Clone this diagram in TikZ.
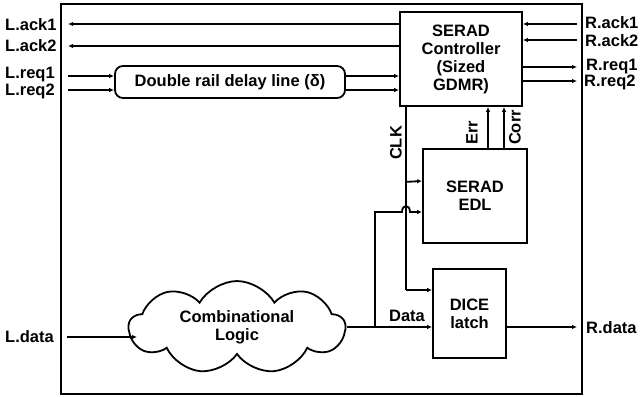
\documentclass[tikz,border=0pt]{standalone}
\usepackage{fontspec}
\setmainfont{Liberation Sans}
\usetikzlibrary{arrows.meta,shapes.symbols}

\tikzset{
  blk/.style={draw, line width=1.8pt, inner sep=0pt, align=center},
  sig/.style={line width=1.8pt, -{Latex[length=5pt,width=4.5pt]}},
  wire/.style={line width=1.8pt},
  lbl/.style={inner sep=0pt}
}

\begin{document}
\begin{tikzpicture}[x=1pt, y=-1pt, font=\fontsize{16.5}{18}\selectfont\bfseries]
        \useasboundingbox (0,0) rectangle (642,396);

        % Cadre exterieur
        \draw[wire] (61,4) rectangle (582,394);

        % Blocs
        \node[blk, minimum width=122pt, minimum height=94pt] (ctrl) at (461,59) {SERAD\\Controller\\(Sized\\GDMR)};
        \node[blk, rounded corners=8pt, minimum width=230pt, minimum height=32pt] (delay) at (230,82) {Double rail delay line (δ)};
        \node[blk, minimum width=104pt, minimum height=94pt] (edl) at (475,196) {SERAD\\EDL};
        \node[blk, minimum width=73pt, minimum height=89pt] (dice) at (469.5,313.5) {DICE\\latch};
        \node[blk, cloud, cloud puffs=9, cloud puff arc=120, aspect=2.5, minimum width=216pt, minimum height=85pt] (logic) at (237,327.5) {Combinational\\Logic};

        % Etiquettes gauche
        \node[lbl, anchor=west] (lack1) at (5,25) {L.ack1};
        \node[lbl, anchor=west] (lack2) at (5,46) {L.ack2};
        \node[lbl, anchor=west] (lreq1) at (5,75) {L.req1};
        \node[lbl, anchor=west] (lreq2) at (5,91) {L.req2};
        \node[lbl, anchor=west] (ldata) at (5,337) {L.data};

        % Etiquettes droite
        \node[lbl, anchor=west] (rack1) at (585,23) {R.ack1};
        \node[lbl, anchor=west] (rack2) at (585,41) {R.ack2};
        \node[lbl, anchor=west] (rreq1) at (586,67) {R.req1};
        \node[lbl, anchor=west] (rreq2) at (584,82) {R.req2};
        \node[lbl, anchor=west] (rdata) at (586,328) {R.data};

        % Bords internes du cadre
        \coordinate (inL) at (68,0);
        \coordinate (inR) at (577,0);

        % Acquittements et requetes gauche
        \draw[sig] (ctrl.west |- 0,24) -- (inL |- 0,24);
        \draw[sig] (ctrl.west |- 0,46) -- (inL |- 0,46);
        \draw[sig] (inL |- 0,76) -- (delay.west |- 0,76);
        \draw[sig] (inL |- 0,90) -- (delay.west |- 0,90);
        \draw[sig] (delay.east |- 0,76) -- (ctrl.west |- 0,76);
        \draw[sig] (delay.east |- 0,90) -- (ctrl.west |- 0,90);

        % Acquittements et requetes droite
        \draw[sig] (inR |- 0,24) -- (ctrl.east |- 0,24);
        \draw[sig] (inR |- 0,40) -- (ctrl.east |- 0,40);
        \draw[sig] (ctrl.east |- 0,67) -- (inR |- 0,67);
        \draw[sig] (ctrl.east |- 0,81) -- (inR |- 0,81);

        % Err et Corr
        \draw[sig] (edl.north -| 488,0) -- (ctrl.south -| 488,0);
        \draw[sig] (edl.north -| 504,0) -- (ctrl.south -| 504,0);
        \node[lbl, rotate=90] (err) at (472,132.5) {Err};
        \node[lbl, rotate=90] (corr) at (515,127.5) {Corr};

        % Horloge
        \coordinate (clk) at (406,290);
        \draw[wire] (ctrl.south -| clk) -- (clk);
        \draw[sig] (clk) -- (dice.west |- clk);
        \draw[sig] (ctrl.south -| clk) ++(0,75) -- (edl.west |- 0,181);
        \node[lbl, rotate=90] (clklbl) at (396,143) {CLK};

        % Donnees
        \coordinate (split) at (375,327);
        \draw[sig] (67,337) -- (137,337);
        \draw[sig] (logic.east |- split) -- (dice.west |- split);
        \draw[sig] (split) -- (375,212) -- (402,212) .. controls (402,204) and (410,204) .. (410,212) -- (edl.west |- 0,212);
        \node[lbl, anchor=south] (datalbl) at (407,322) {Data};
        \draw[sig] (dice.east |- split) -- (inR |- split);

    \end{tikzpicture}
\end{document}
